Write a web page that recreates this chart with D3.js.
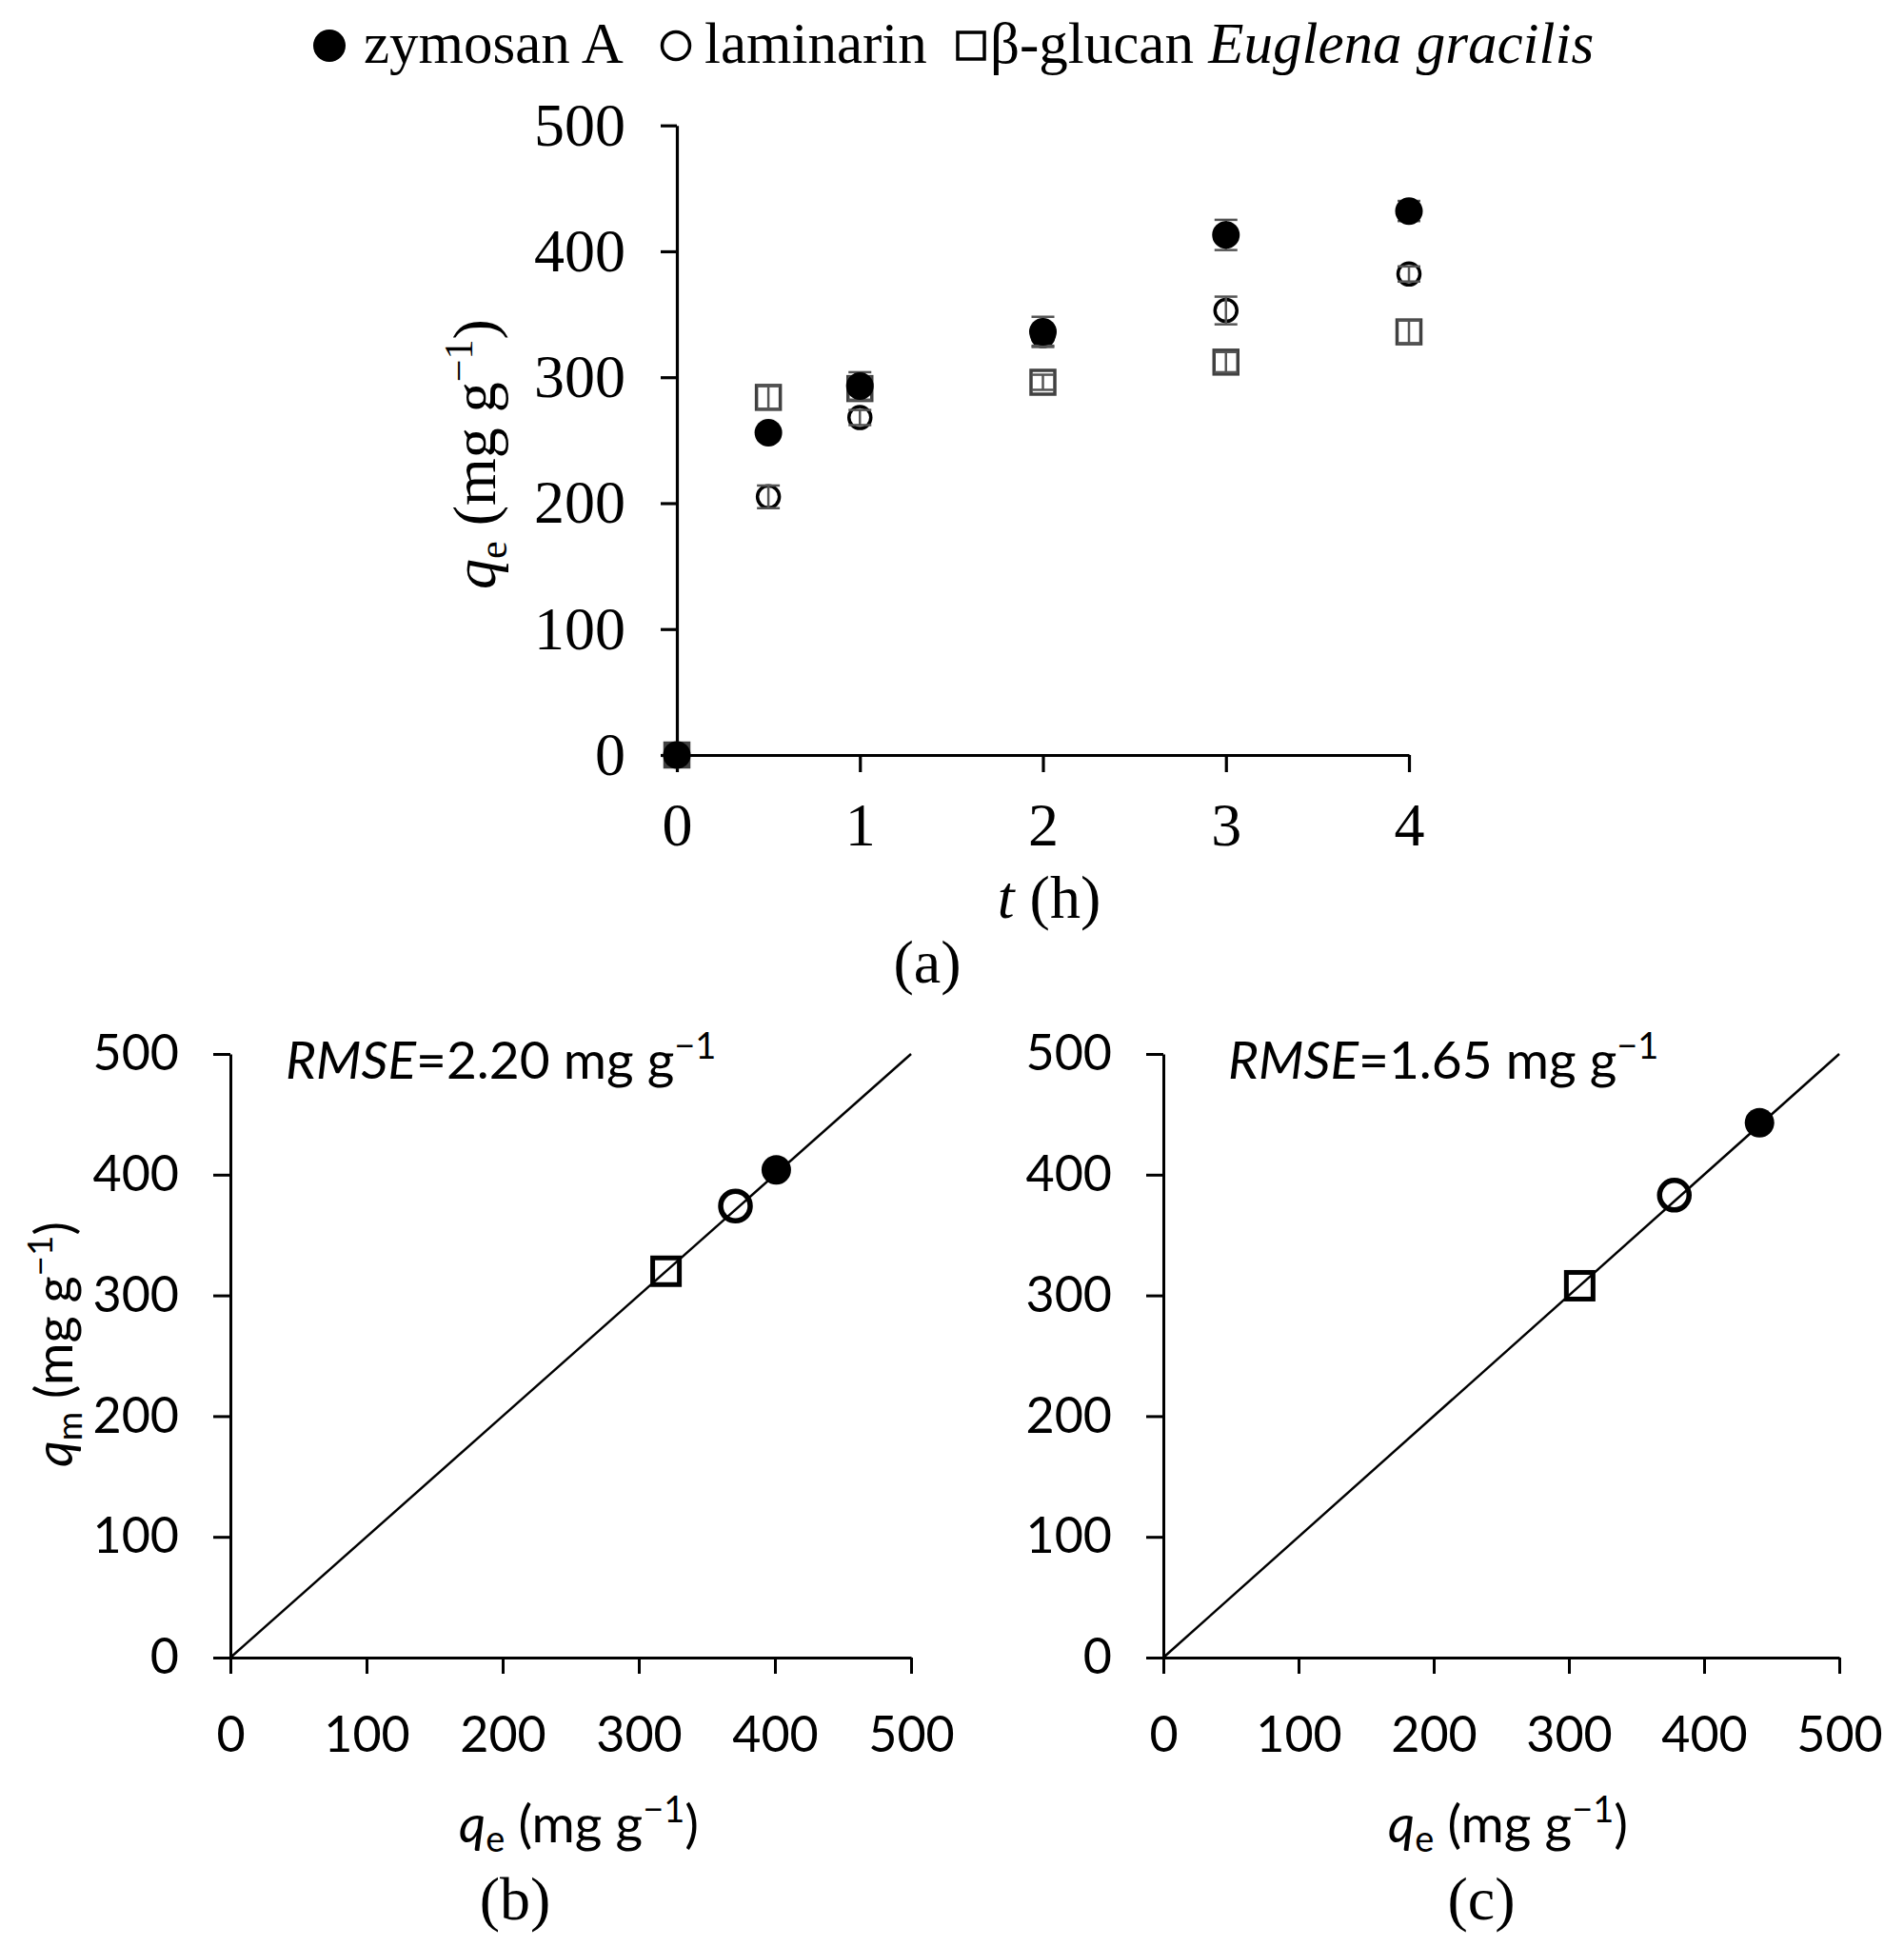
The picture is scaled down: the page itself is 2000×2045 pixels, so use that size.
<!DOCTYPE html>
<html><head><meta charset="utf-8">
<script src="https://cdn.jsdelivr.net/npm/d3@7/dist/d3.min.js"></script>
<style>body{margin:0;background:#fff}svg{display:block}</style>
</head><body>
<svg id="c" width="2000" height="2045"></svg>
<script>
// ---- data ----
const seriesNames = ["zymosan A", "laminarin", "β-glucan Euglena gracilis"];
const times = [0, 0.5, 1, 2, 3, 4];
const zymosanQ = [0, 256, 293, 336, 413, 432];
const zymosanErr = [0, 4, 11, 12, 12, 8];
const laminarinQ = [0, 205, 268, 333, 353, 382];
const laminarinErr = [0, 9, 6, 8, 11, 6];
const glucanQ = [0, 284, 291, 296, 312, 336];
const glucanErr = [0, 9, 9, 6, 8, 9];
const tTicks = [0, 1, 2, 3, 4];
const qTicks = [0, 100, 200, 300, 400, 500];
// panels b, c: [zymosan, laminarin, glucan]
const bQe = [401, 371, 320];
const bQm = [404, 374, 320];
const cQe = [441, 378, 308];
const cQm = [443, 383, 308];
const rmseB = "2.20", rmseC = "1.65";

const svg = d3.select("#c");
const serif = "'Liberation Serif','Times New Roman',serif";
const sans = "Lato,'Open Sans',sans-serif";

// ---- legend ----
const lg = svg.append("g");
lg.append("circle").attr("cx", 346).attr("cy", 48).attr("r", 17).attr("fill", "#000");
lg.append("circle").attr("cx", 710).attr("cy", 48).attr("r", 14.5).attr("fill", "none").attr("stroke", "#000").attr("stroke-width", 3.5);
lg.append("rect").attr("x", 1006).attr("y", 34).attr("width", 28).attr("height", 28).attr("fill", "none").attr("stroke", "#000").attr("stroke-width", 3.5);
const lt = (x, txt, it) => lg.append("text").attr("x", x).attr("y", 66).attr("font-family", serif).attr("font-size", 61).attr("font-style", it ? "italic" : "normal").text(txt);
lt(382, seriesNames[0]);
lt(740, seriesNames[1]);
const t3 = lg.append("text").attr("x", 1040).attr("y", 66).attr("font-family", serif).attr("font-size", 61);
t3.append("tspan").text("β-glucan ");
t3.append("tspan").attr("font-style", "italic").text("Euglena gracilis");

// ---- panel a ----
const xa = d3.scaleLinear().domain([0, 4]).range([711, 1480]);
const ya = d3.scaleLinear().domain([0, 500]).range([793, 131.7]);
const ga = svg.append("g");
const axA = (sel) => { sel.selectAll("path,line").attr("stroke", "#000").attr("stroke-width", 3.2);
  sel.selectAll("text").attr("font-family", serif).attr("font-size", 64).attr("fill", "#000"); };
ga.append("g").attr("transform", "translate(711,0)")
  .call(d3.axisLeft(ya).tickValues(qTicks).tickFormat(d3.format("d")).tickSize(17).tickSizeOuter(0).tickPadding(37)).call(axA);
ga.append("g").attr("transform", "translate(0,793)")
  .call(d3.axisBottom(xa).tickValues(tTicks).tickFormat(d3.format("d")).tickSize(18).tickSizeOuter(0).tickPadding(32)).call(axA);

function errBars(g, q, e, x, y) {
  times.forEach((t, i) => {
    if (!e[i]) return;
    const cx = x(t), y1 = y(q[i] - e[i]), y2 = y(q[i] + e[i]);
    g.append("line").attr("x1", cx).attr("x2", cx).attr("y1", y1).attr("y2", y2).attr("stroke", "#555").attr("stroke-width", 2.5);
    [y1, y2].forEach(yy => g.append("line").attr("x1", cx - 12).attr("x2", cx + 12).attr("y1", yy).attr("y2", yy).attr("stroke", "#555").attr("stroke-width", 2.5));
  });
}
// glucan squares
ga.selectAll(".sq").data(times).join("rect")
  .attr("x", (d) => xa(d) - 12.5).attr("y", (d, i) => ya(glucanQ[i]) - 12.5)
  .attr("width", 25).attr("height", 25).attr("fill", (d, i) => i === 0 ? "#404040" : "none")
  .attr("stroke", "#404040").attr("stroke-width", 3.5);
errBars(ga, glucanQ, glucanErr, xa, ya);
// laminarin open circles
ga.selectAll(".oc").data(times).join("circle")
  .attr("cx", (d) => xa(d)).attr("cy", (d, i) => ya(laminarinQ[i])).attr("r", 11.5)
  .attr("fill", "none").attr("stroke", "#000").attr("stroke-width", 3.5);
errBars(ga, laminarinQ, laminarinErr, xa, ya);
// zymosan: error bars behind filled markers
errBars(ga, zymosanQ, zymosanErr, xa, ya);
ga.selectAll(".fc").data(times).join("circle")
  .attr("cx", (d) => xa(d)).attr("cy", (d, i) => ya(zymosanQ[i])).attr("r", 14.5).attr("fill", "#000");

// y label a
const yla = ga.append("text").attr("transform", "translate(520,477) rotate(-90)").attr("text-anchor", "middle")
  .attr("font-family", serif).attr("font-size", 64);
yla.append("tspan").attr("font-style", "italic").text("q");
yla.append("tspan").attr("font-size", 42).attr("dy", 12).text("e");
yla.append("tspan").attr("dy", -12).text(" (mg  g");
yla.append("tspan").attr("font-size", 42).attr("dy", -24).text("−1");
yla.append("tspan").attr("dy", 24).text(")");
const xla = ga.append("text").attr("x", 1102).attr("y", 964).attr("text-anchor", "middle").attr("font-family", serif).attr("font-size", 64);
xla.append("tspan").attr("font-style", "italic").text("t");
xla.append("tspan").text(" (h)");
ga.append("text").attr("x", 974).attr("y", 1032).attr("text-anchor", "middle").attr("font-family", serif).attr("font-size", 64).text("(a)");

// ---- panels b and c ----
function fitPanel(x0, x1, qe, qm, rmse, label, showY, rmseX, xLabX, capX) {
  const x = d3.scaleLinear().domain([0, 500]).range([x0, x1]);
  const y = d3.scaleLinear().domain([0, 500]).range([1741, 1107]);
  const g = svg.append("g");
  const ax = (sel) => { sel.selectAll("path,line").attr("stroke", "#000").attr("stroke-width", 3);
    sel.selectAll("text").attr("font-family", sans).attr("font-size", 52).attr("fill", "#000"); };
  g.append("g").attr("transform", `translate(${x0},0)`)
    .call(d3.axisLeft(y).tickValues(qTicks).tickFormat(d3.format("d")).tickSize(18).tickSizeOuter(0).tickPadding(36)).call(ax);
  g.append("g").attr("transform", "translate(0,1741)")
    .call(d3.axisBottom(x).tickValues(qTicks).tickFormat(d3.format("d")).tickSize(17).tickSizeOuter(0).tickPadding(45)).call(ax);
  g.append("line").attr("x1", x(0)).attr("y1", y(0)).attr("x2", x(500)).attr("y2", y(500)).attr("stroke", "#000").attr("stroke-width", 2.5);
  g.append("rect").attr("x", x(qe[2]) - 14).attr("y", y(qm[2]) - 14).attr("width", 28).attr("height", 28)
    .attr("fill", "none").attr("stroke", "#000").attr("stroke-width", 5);
  g.append("circle").attr("cx", x(qe[1])).attr("cy", y(qm[1])).attr("r", 15.5)
    .attr("fill", "none").attr("stroke", "#000").attr("stroke-width", 5.5);
  g.append("circle").attr("cx", x(qe[0])).attr("cy", y(qm[0])).attr("r", 15.5).attr("fill", "#000");
  const rt = g.append("text").attr("x", rmseX).attr("y", 1133).attr("font-family", sans).attr("font-size", 55);
  rt.append("tspan").attr("font-style", "italic").text("RMSE");
  rt.append("tspan").text("=" + rmse + " mg g");
  rt.append("tspan").attr("font-size", 38).attr("dy", -21).text("−1");
  const xl = g.append("text").attr("x", xLabX).attr("y", 1935).attr("text-anchor", "middle").attr("font-family", sans).attr("font-size", 55);
  xl.append("tspan").attr("font-style", "italic").text("q");
  xl.append("tspan").attr("font-size", 38).attr("dy", 10).text("e");
  xl.append("tspan").attr("dy", -10).text(" (mg g");
  xl.append("tspan").attr("font-size", 38).attr("dy", -21).text("−1");
  xl.append("tspan").attr("dy", 21).text(")");
  if (showY) {
    const yl = g.append("text").attr("transform", "translate(76,1412) rotate(-90)").attr("text-anchor", "middle").attr("font-family", sans).attr("font-size", 54);
    yl.append("tspan").attr("font-style", "italic").text("q");
    yl.append("tspan").attr("font-size", 37).attr("dy", 10).text("m");
    yl.append("tspan").attr("dy", -10).text(" (mg g");
    yl.append("tspan").attr("font-size", 37).attr("dy", -21).text("−1");
    yl.append("tspan").attr("dy", 21).text(")");
  }
  g.append("text").attr("x", capX).attr("y", 2016).attr("text-anchor", "middle").attr("font-family", serif).attr("font-size", 64).text(label);
}
fitPanel(242, 957, bQe, bQm, rmseB, "(b)", true, 300, 608, 541);
fitPanel(1222, 1932, cQe, cQm, rmseC, "(c)", false, 1290, 1584, 1556);
</script>
</body></html>
